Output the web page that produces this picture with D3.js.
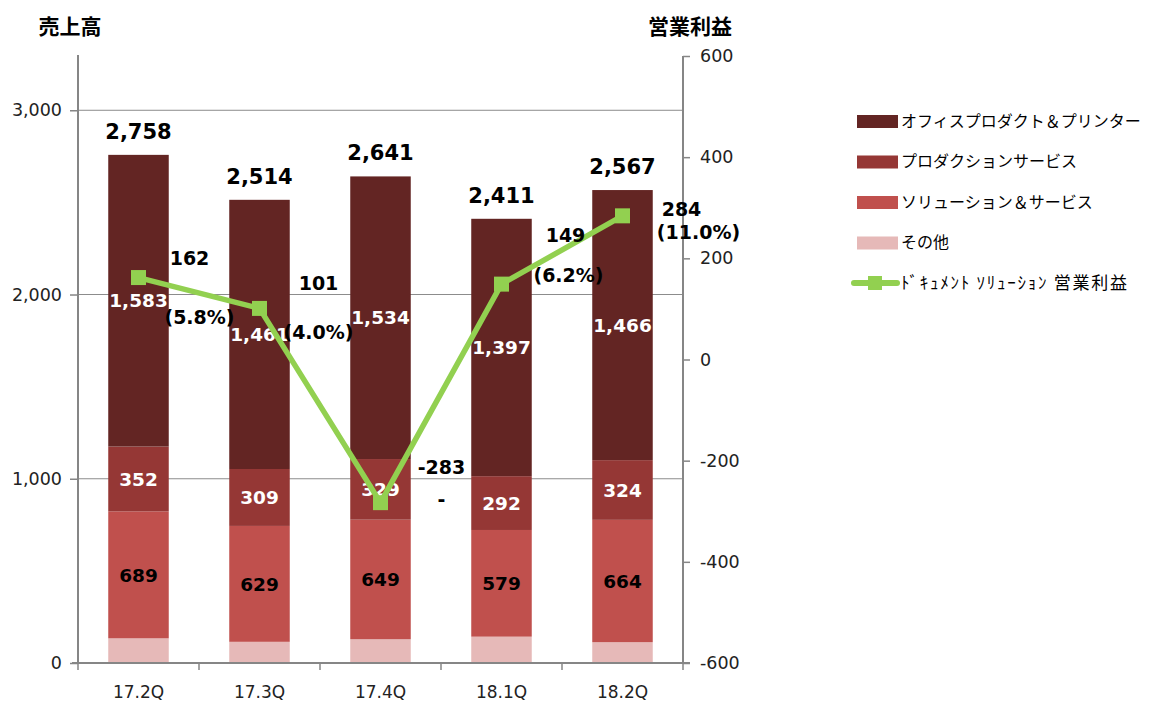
<!DOCTYPE html>
<html>
<head>
<meta charset="utf-8">
<script src="https://cdn.jsdelivr.net/npm/d3@7"></script>
<style>
  body { margin: 0; background: #fff; }
  text { font-family: "DejaVu Sans", Verdana, sans-serif; }
  .jp { font-family: "Noto Sans CJK JP", sans-serif; }
</style>
</head>
<body>
<div id="chart"></div>
<script>
// データ
const quarters = ["17.2Q", "17.3Q", "17.4Q", "18.1Q", "18.2Q"];
const seriesNames = ["その他", "ソリューション＆サービス", "プロダクションサービス", "オフィスプロダクト＆プリンター"];
const others = [134, 115, 129, 143, 113];
const solutions = [689, 629, 649, 579, 664];
const production = [352, 309, 329, 292, 324];
const office = [1583, 1461, 1534, 1397, 1466];
const totals = [2758, 2514, 2641, 2411, 2567];
const profit = [162, 101, -283, 149, 284];
const margin = ["(5.8%)", "(4.0%)", "-", "(6.2%)", "(11.0%)"];
const leftTicks = [0, 1000, 2000, 3000];
const rightTicks = [-600, -400, -200, 0, 200, 400, 600];
const lineName = "ﾄﾞｷｭﾒﾝﾄ ｿﾘｭｰｼｮﾝ 営業利益";

const W = 1155, H = 702;
const colors = ["#e6b9b8", "#c0504d", "#953735", "#632523"];
const green = "#92d050";

const svg = d3.select("#chart").append("svg")
  .attr("width", W).attr("height", H);

const x = d3.scaleBand().domain(quarters).range([78, 683]).paddingInner(0.5).paddingOuter(0.25);
const y = d3.scaleLinear().domain([0, 3300]).range([663, 55]);
const yR = d3.scaleLinear().domain([-600, 600]).range([663, 56]);

// グリッド線
svg.append("g").selectAll("line")
  .data(leftTicks.filter(d => d > 0))
  .join("line")
  .attr("x1", 78).attr("x2", 683)
  .attr("y1", d => y(d)).attr("y2", d => y(d))
  .attr("stroke", "#8c8c8c").attr("stroke-width", 1);

// 積み上げ棒
const rows = quarters.map((q, i) => ({ q, v: [others[i], solutions[i], production[i], office[i]] }));
const stackData = rows.map(r => {
  let acc = 0;
  return r.v.map((v, k) => { const s = { q: r.q, k, y0: acc, y1: acc + v, v }; acc += v; return s; });
});

const bars = svg.append("g");
stackData.forEach(segs => {
  segs.forEach(s => {
    bars.append("rect")
      .attr("x", x(s.q))
      .attr("width", x.bandwidth())
      .attr("y", y(s.y1))
      .attr("height", y(s.y0) - y(s.y1))
      .attr("fill", colors[s.k]);
  });
});

// 軸
const axisColor = "#868686";
const gL = svg.append("g").attr("transform", "translate(78,0)")
  .call(d3.axisLeft(y).tickValues(leftTicks).tickFormat(d3.format(",")).tickSize(8).tickPadding(8));
gL.select(".domain").attr("d", `M0,${y(3300)}V${y(0)}`);
const gR = svg.append("g").attr("transform", "translate(683,0)")
  .call(d3.axisRight(yR).tickValues(rightTicks).tickFormat(d => String(d)).tickSize(7).tickPadding(10));
const gX = svg.append("g").attr("transform", "translate(0,663)");
gX.append("line").attr("x1", 72).attr("x2", 690).attr("stroke", axisColor).attr("stroke-width", 2);
const bounds = quarters.map(q => x(q) - x.step() * x.paddingInner() / 2).concat([683]);
gX.selectAll(".xt").data(bounds).join("line")
  .attr("x1", d => d).attr("x2", d => d).attr("y1", 0).attr("y2", 7)
  .attr("stroke", axisColor).attr("stroke-width", 1.5);
gX.selectAll(".xl").data(quarters).join("text")
  .attr("x", d => x(d) + x.bandwidth() / 2).attr("y", 35)
  .attr("text-anchor", "middle").attr("font-size", 17).attr("fill", "#222")
  .text(d => d);

[gL, gR].forEach(g => {
  g.attr("font-size", null).attr("font-family", null);
  g.select(".domain").attr("stroke", axisColor).attr("stroke-width", 2);
  g.selectAll(".tick line").attr("stroke", axisColor).attr("stroke-width", 1.5);
  g.selectAll(".tick text").attr("font-size", 17.5).attr("fill", "#222");
});
gR.select(".domain").attr("d", `M0,${yR(600)}V${yR(-600)}`);

// 軸タイトル
svg.append("text").attr("class", "jp").attr("x", 70).attr("y", 34)
  .attr("text-anchor", "middle").attr("font-size", 21).attr("font-weight", "bold").text("売上高");
svg.append("text").attr("class", "jp").attr("x", 690).attr("y", 34)
  .attr("text-anchor", "middle").attr("font-size", 21).attr("font-weight", "bold").text("営業利益");

// 棒のラベル
const cx = q => x(q) + x.bandwidth() / 2;
stackData.forEach((segs, i) => {
  [1, 2, 3].forEach(k => {
    const s = segs[k];
    svg.append("text")
      .attr("x", cx(s.q))
      .attr("y", (y(s.y0) + y(s.y1)) / 2)
      .attr("dy", "0.36em")
      .attr("text-anchor", "middle")
      .attr("font-size", 18.5).attr("font-weight", "bold")
      .attr("fill", k === 1 ? "#000" : "#fff")
      .text(d3.format(",")(s.v));
  });
  svg.append("text")
    .attr("x", cx(quarters[i])).attr("y", y(totals[i]) - 16)
    .attr("text-anchor", "middle")
    .attr("font-size", 21).attr("font-weight", "bold").attr("fill", "#000")
    .text(d3.format(",")(totals[i]));
});

// 営業利益の折れ線
const line = d3.line().x((d, i) => cx(quarters[i])).y(d => yR(d));
svg.append("path").datum(profit)
  .attr("d", line).attr("fill", "none")
  .attr("stroke", green).attr("stroke-width", 5.5).attr("stroke-linejoin", "round");
svg.append("g").selectAll("rect").data(profit).join("rect")
  .attr("x", (d, i) => cx(quarters[i]) - 7.5).attr("y", d => yR(d) - 7.5)
  .attr("width", 15).attr("height", 15).attr("fill", green);

// 営業利益のラベル（点からのずれ）
const valOffset = [[51, -19], [59, -25], [61, -35], [64, -49], [59, -7]];
const pctOffset = [[61, 40], [59, 24], [61, -3], [67, -9], [76, 16]];
profit.forEach((p, i) => {
  const px = cx(quarters[i]), py = yR(p);
  svg.append("text")
    .attr("x", px + valOffset[i][0]).attr("y", py + valOffset[i][1]).attr("dy", "0.36em")
    .attr("text-anchor", "middle").attr("font-size", 19).attr("font-weight", "bold")
    .text(String(p));
  svg.append("text")
    .attr("x", px + pctOffset[i][0]).attr("y", py + pctOffset[i][1]).attr("dy", "0.36em")
    .attr("text-anchor", "middle").attr("font-size", 19).attr("font-weight", "bold")
    .text(margin[i]);
});

// 凡例
const legend = svg.append("g").attr("transform", "translate(857,121)");
const legendItems = seriesNames.slice().reverse();
legendItems.forEach((name, j) => {
  const g = legend.append("g").attr("transform", `translate(0,${j * 40.5})`);
  g.append("rect").attr("x", 0).attr("y", -6).attr("width", 41).attr("height", 13)
    .attr("fill", colors[3 - j]);
  g.append("text").attr("class", "jp").attr("x", 44).attr("y", 0).attr("dy", "0.36em")
    .attr("font-size", 16).attr("fill", "#000").text(name);
});
const lg = legend.append("g").attr("transform", `translate(0,${4 * 40.5})`);
lg.append("line").attr("x1", -3).attr("x2", 40).attr("stroke", green)
  .attr("stroke-width", 6).attr("stroke-linecap", "round");
lg.append("rect").attr("x", 11).attr("y", -7).attr("width", 14).attr("height", 14).attr("fill", green);
lg.append("text").attr("class", "jp").attr("x", 44).attr("y", 0).attr("dy", "0.36em")
  .attr("font-size", 17).attr("fill", "#000")
  .attr("textLength", 226).attr("lengthAdjust", "spacing")
  .text(lineName);
</script>
</body>
</html>
